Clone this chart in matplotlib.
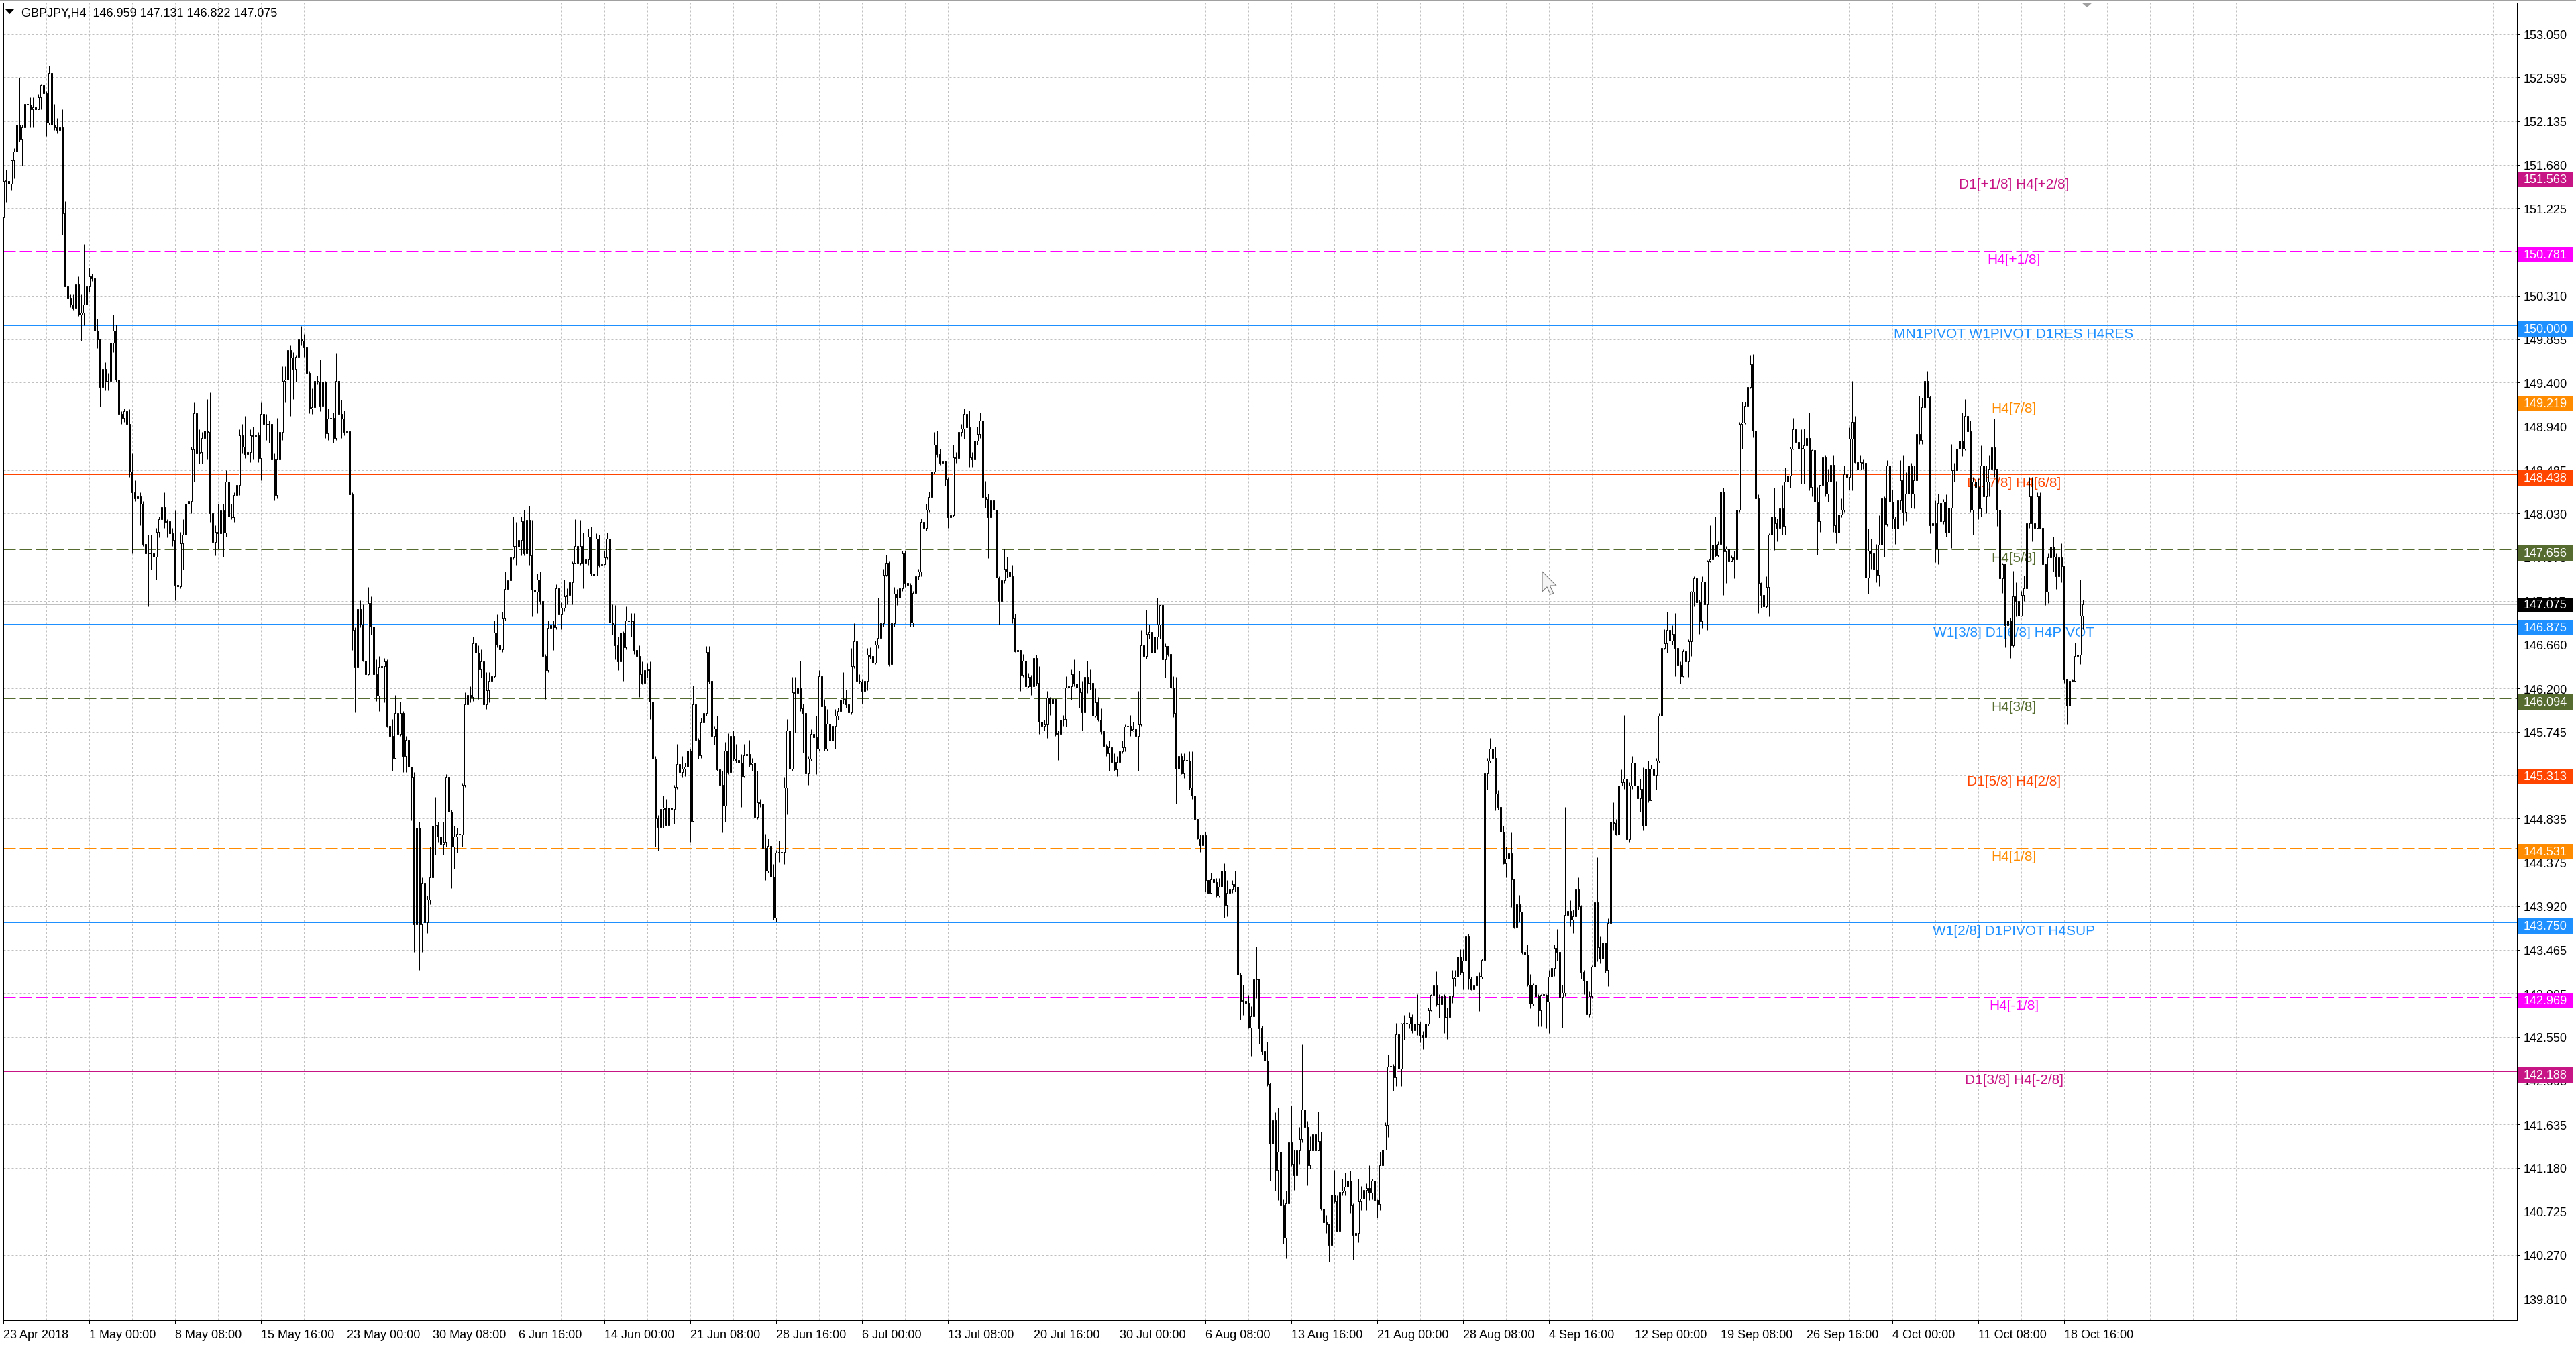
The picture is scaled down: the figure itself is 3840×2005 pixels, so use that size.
import matplotlib
matplotlib.use("Agg")
import matplotlib.pyplot as plt
import matplotlib.transforms as mtransforms
from matplotlib.patches import Rectangle, Polygon
import numpy as np

plt.rcParams['font.family'] = ['Liberation Sans', 'DejaVu Sans']
plt.rcParams['lines.scale_dashes'] = False

# ------------------------------------------------------------------ data
symbol = "GBPJPY,H4"
first_open = 151.13

close_1 = [
    151.51, 151.51, 151.48, 151.73, 151.82, 152.10, 151.95, 152.07, 152.32, 152.31,
    152.26, 152.28, 152.26, 152.39, 152.51, 152.43, 152.12, 152.64, 152.10, 152.07,
    152.04, 152.07, 151.17, 150.41, 150.29, 150.22, 150.18, 150.43, 150.11, 150.13,
    150.22, 150.41, 150.51, 150.49, 149.94, 149.85, 149.35, 149.54, 149.41, 149.42,
    149.82, 149.94, 149.43, 149.07, 149.03, 149.10, 148.97, 148.47, 148.25, 148.19,
    148.21, 148.13, 147.71, 147.61, 147.62, 147.61, 147.58, 147.84, 147.97, 148.10,
    147.94, 147.95, 147.82, 147.75, 147.28, 147.27, 147.72, 147.81, 148.13, 148.16,
    148.70, 149.08, 148.66, 148.67, 148.82, 148.90, 148.88, 148.03, 147.73, 147.84,
    147.82, 148.06, 147.83, 148.36, 148.00, 147.99, 148.22, 148.33, 148.85, 148.73,
    148.65, 148.67, 148.85, 148.84, 148.85, 148.61, 149.07, 148.97, 148.96, 148.97,
    148.60, 148.22, 148.60, 148.88, 149.42, 149.43, 149.74, 149.66, 149.54, 149.67,
    149.85, 149.84, 149.77, 149.50, 149.13, 149.14, 149.42, 149.41, 149.16, 149.41,
    148.87, 149.02, 149.03, 148.82, 149.42, 149.07, 149.02, 148.88, 148.89, 148.23,
    146.81, 146.42, 147.03, 146.87]
high_1 = [
    151.60, 151.63, 151.57, 151.73, 151.85, 152.20, 152.59, 152.10, 152.42, 152.45,
    152.39, 152.39, 152.56, 152.42, 152.53, 152.54, 152.45, 152.72, 152.70, 152.32,
    152.17, 152.17, 152.26, 151.30, 150.60, 150.32, 150.32, 150.44, 150.51, 150.32,
    150.85, 150.51, 150.60, 150.54, 150.63, 150.07, 149.85, 149.63, 149.61, 149.50,
    149.82, 150.11, 150.01, 149.65, 149.10, 149.13, 149.46, 149.12, 148.66, 148.38,
    148.30, 148.25, 148.16, 147.78, 147.81, 147.81, 147.83, 147.88, 148.00, 148.13,
    148.25, 147.97, 147.97, 147.88, 148.06, 147.37, 147.84, 147.97, 148.14, 148.42,
    148.73, 149.19, 149.19, 148.91, 148.88, 148.92, 149.23, 149.30, 148.06, 147.91,
    148.13, 148.10, 148.13, 148.48, 148.42, 148.13, 148.25, 148.41, 148.91, 148.97,
    149.05, 148.78, 148.91, 148.94, 149.00, 148.88, 149.19, 149.10, 149.07, 149.00,
    149.02, 148.66, 149.03, 148.94, 149.57, 149.57, 149.80, 149.79, 149.72, 149.69,
    149.91, 149.99, 149.91, 149.79, 149.52, 149.34, 149.47, 149.47, 149.64, 149.49,
    149.42, 149.13, 149.10, 149.09, 149.71, 149.55, 149.22, 149.11, 148.92, 148.90,
    148.25, 146.84, 147.19, 147.12]
low_1 = [
    150.98, 151.29, 151.45, 151.42, 151.54, 151.82, 151.92, 151.67, 152.04, 152.10,
    152.07, 152.07, 152.10, 152.26, 152.26, 152.39, 151.98, 152.10, 152.07, 152.04,
    152.01, 151.95, 150.95, 150.41, 150.26, 150.19, 150.16, 150.21, 150.10, 149.84,
    150.00, 150.19, 150.35, 150.46, 149.88, 149.76, 149.15, 149.19, 149.32, 149.32,
    149.19, 149.72, 149.41, 149.00, 148.97, 148.99, 148.97, 148.41, 147.61, 148.16,
    148.06, 147.91, 147.69, 147.27, 147.06, 147.44, 147.50, 147.34, 147.78, 147.88,
    147.88, 147.78, 147.78, 147.69, 147.12, 147.06, 147.25, 147.44, 147.73, 148.03,
    148.03, 148.36, 148.63, 148.55, 148.55, 148.53, 148.60, 147.94, 147.48, 147.59,
    147.66, 147.78, 147.58, 147.79, 147.92, 147.97, 147.94, 148.21, 148.22, 148.66,
    148.61, 148.53, 148.57, 148.60, 148.57, 148.57, 148.38, 148.94, 148.80, 148.77,
    148.60, 148.17, 148.19, 148.58, 148.80, 149.19, 149.13, 149.05, 149.23, 149.41,
    149.61, 149.79, 149.67, 149.47, 149.08, 149.07, 149.19, 149.38, 149.10, 149.16,
    148.82, 148.80, 148.97, 148.77, 148.80, 149.03, 148.82, 148.85, 148.82, 147.97,
    146.60, 145.95, 146.39, 146.84]

close_2 = [
    146.49, 146.35, 147.09, 146.85, 146.35, 146.12, 146.42, 146.43, 146.48, 145.81,
    145.70, 145.47, 145.94, 145.72, 145.94, 145.49, 145.66, 145.38, 145.27, 143.73,
    144.74, 143.73, 144.16, 143.75, 143.99, 144.22, 144.76, 144.77, 144.65, 144.57,
    144.59, 145.27, 144.91, 144.54, 144.65, 144.68, 144.67, 145.19, 146.03, 146.13,
    146.11, 146.67, 146.57, 146.40, 146.48, 146.03, 146.18, 146.28, 146.33, 146.78,
    146.66, 146.61, 146.93, 147.24, 147.33, 147.57, 147.69, 147.68, 147.75, 147.95,
    147.61, 147.96, 147.59, 147.23, 147.21, 147.34, 147.11, 146.54, 146.39, 146.83,
    146.86, 146.84, 147.25, 146.97, 147.04, 147.16, 147.18, 147.31, 147.51, 147.69,
    147.51, 147.69, 147.51, 147.55, 147.79, 147.40, 147.38, 147.77, 147.49, 147.50,
    147.57, 147.77, 146.89, 146.87, 146.65, 146.48, 146.78, 146.63, 146.91, 146.90,
    146.91, 146.60, 146.54, 146.35, 146.26, 146.39, 146.40, 146.06, 145.46, 144.84,
    144.75, 144.94, 144.95, 144.77, 144.95, 144.94, 145.17, 145.41, 145.32, 145.36]
high_2 = [
    147.08, 146.50, 147.26, 147.16, 146.86, 146.50, 146.54, 146.69, 146.52, 146.50,
    146.13, 145.88, 146.13, 145.96, 146.06, 145.96, 145.70, 145.68, 145.38, 145.32,
    144.82, 144.80, 144.22, 144.18, 144.03, 144.54, 144.97, 145.06, 144.80, 144.67,
    144.80, 145.30, 145.30, 144.93, 144.76, 144.74, 144.76, 145.21, 146.16, 146.28,
    146.22, 146.74, 146.71, 146.65, 146.61, 146.52, 146.37, 146.37, 146.48, 146.91,
    146.97, 146.74, 147.00, 147.42, 147.38, 147.87, 148.00, 147.94, 147.85, 148.00,
    148.07, 148.11, 148.11, 147.96, 147.42, 147.40, 147.42, 147.25, 146.56, 146.91,
    146.93, 146.91, 147.29, 147.83, 147.10, 147.34, 147.25, 147.68, 147.53, 147.97,
    147.81, 147.96, 147.83, 147.83, 147.87, 147.89, 147.49, 147.82, 147.81, 147.59,
    147.64, 147.83, 147.83, 147.08, 147.07, 146.74, 146.86, 146.80, 147.06, 146.99,
    146.99, 146.99, 146.86, 146.65, 146.48, 146.48, 146.46, 146.48, 146.09, 145.49,
    144.87, 145.06, 145.08, 145.04, 145.15, 145.00, 145.19, 145.62, 145.40, 145.49]
low_2 = [
    146.48, 146.09, 146.34, 146.76, 145.69, 146.07, 145.96, 146.31, 146.05, 145.79,
    145.27, 145.34, 145.47, 145.57, 145.70, 145.32, 145.32, 145.32, 144.82, 143.44,
    143.56, 143.25, 143.44, 143.60, 143.64, 143.94, 144.20, 144.46, 144.59, 144.11,
    144.46, 144.54, 144.84, 144.11, 144.31, 144.48, 144.52, 144.54, 145.17, 145.72,
    146.05, 146.07, 146.54, 146.09, 146.31, 145.83, 145.98, 146.05, 146.22, 146.31,
    146.63, 146.37, 146.58, 146.91, 147.21, 147.29, 147.55, 147.49, 147.64, 147.59,
    147.59, 147.59, 147.49, 146.95, 146.91, 146.99, 147.08, 146.52, 146.09, 146.37,
    146.74, 146.60, 146.82, 146.95, 146.82, 147.01, 147.08, 147.14, 147.08, 147.51,
    147.42, 147.49, 147.25, 147.49, 147.49, 147.38, 147.21, 147.38, 147.47, 147.32,
    147.49, 147.55, 146.88, 146.76, 146.50, 146.39, 146.46, 146.28, 146.61, 146.61,
    146.74, 146.56, 146.52, 146.11, 146.24, 146.09, 146.31, 145.88, 145.40, 144.54,
    144.50, 144.39, 144.74, 144.76, 144.59, 144.91, 144.78, 145.15, 145.27, 145.27]

close_3 = [
    145.38, 145.55, 144.81, 146.03, 145.66, 145.50, 145.84, 145.94, 146.58, 146.28,
    145.70, 145.78, 145.35, 145.19, 144.97, 145.55, 145.32, 145.70, 145.46, 145.45,
    145.42, 145.28, 145.50, 145.51, 145.41, 145.42, 144.85, 145.01, 144.99, 144.53,
    144.29, 144.55, 144.23, 143.80, 144.48, 144.48, 144.49, 145.16, 145.76, 145.36,
    146.16, 146.15, 146.21, 145.99, 145.94, 145.31, 145.46, 145.72, 145.69, 145.57,
    146.33, 146.01, 145.57, 145.83, 145.65, 145.81, 145.91, 145.96, 146.08, 146.09,
    146.03, 145.95, 146.43, 146.69, 146.28, 146.27, 146.17, 146.28, 146.55, 146.54,
    146.47, 146.66, 146.73, 146.88, 147.39, 147.51, 146.45, 146.88, 147.19, 147.15,
    147.25, 147.61, 147.30, 147.28, 146.89, 147.20, 147.37, 147.42, 147.94, 147.88,
    148.07, 148.20, 148.47, 148.75, 148.65, 148.56, 148.58, 148.39, 147.99, 148.01,
    148.62, 148.61, 148.88, 148.92, 149.07, 148.93, 148.62, 148.60, 148.79, 148.86,
    149.00, 148.20, 148.18, 147.99, 148.17, 148.07, 147.36, 147.11, 147.33, 147.45,
    147.42, 147.37, 146.93, 146.59, 146.60, 146.34, 146.49, 146.22, 146.32, 146.22,
    146.52, 146.26, 145.85, 145.81, 145.82, 146.10, 146.04, 146.09, 145.72, 145.72]
high_3 = [
    145.42, 145.68, 145.57, 146.23, 146.08, 145.68, 145.89, 145.94, 146.64, 146.64,
    146.43, 145.81, 145.91, 145.42, 145.34, 145.64, 145.73, 146.19, 145.76, 145.62,
    145.59, 145.51, 145.62, 145.76, 145.66, 145.47, 145.46, 145.34, 145.04, 145.02,
    144.68, 144.63, 144.65, 144.36, 144.51, 144.61, 144.63, 145.27, 145.88, 145.91,
    146.32, 146.32, 146.34, 146.49, 146.04, 146.02, 145.49, 145.77, 145.79, 145.91,
    146.39, 146.37, 146.09, 145.98, 145.89, 145.87, 145.98, 146.00, 146.16, 146.37,
    146.19, 146.18, 146.62, 146.88, 146.70, 146.35, 146.30, 146.47, 146.62, 146.63,
    146.64, 146.70, 147.15, 146.94, 147.45, 147.60, 147.53, 146.92, 147.26, 147.24,
    147.32, 147.64, 147.64, 147.37, 147.30, 147.22, 147.41, 147.45, 147.98, 147.99,
    148.13, 148.26, 148.52, 148.88, 148.90, 148.71, 148.62, 148.56, 148.41, 148.03,
    148.75, 148.67, 148.92, 148.97, 149.13, 149.31, 149.11, 148.67, 148.82, 148.94,
    149.09, 149.03, 148.37, 148.24, 148.20, 148.17, 148.07, 147.37, 147.36, 147.66,
    147.58, 147.51, 147.49, 146.98, 146.62, 146.60, 146.56, 146.51, 146.36, 146.34,
    146.64, 146.55, 146.43, 145.89, 145.87, 146.17, 146.11, 146.09, 146.09, 145.76]
low_3 = [
    145.28, 145.28, 144.59, 144.80, 145.45, 145.46, 145.47, 145.77, 145.91, 146.25,
    145.59, 145.61, 145.34, 145.08, 144.69, 144.80, 145.30, 145.30, 145.44, 145.42,
    145.36, 144.96, 145.27, 145.45, 145.38, 145.34, 144.81, 144.83, 144.96, 144.51,
    144.19, 144.27, 144.21, 143.78, 143.76, 144.38, 144.36, 144.36, 144.88, 145.35,
    145.34, 145.74, 146.13, 145.96, 145.53, 145.28, 145.19, 145.44, 145.36, 145.30,
    145.55, 145.98, 145.55, 145.55, 145.61, 145.62, 145.57, 145.87, 145.94, 146.04,
    146.00, 145.84, 145.93, 146.41, 146.04, 146.25, 146.04, 146.15, 146.18, 146.51,
    146.40, 146.45, 146.62, 146.73, 146.85, 147.37, 146.43, 146.40, 146.85, 147.07,
    147.11, 147.22, 147.26, 147.22, 146.85, 146.85, 147.17, 147.34, 147.37, 147.83,
    147.85, 148.05, 148.18, 148.45, 148.62, 148.54, 148.39, 148.32, 147.88, 147.64,
    148.00, 148.56, 148.37, 148.84, 148.81, 148.81, 148.52, 148.52, 148.60, 148.75,
    148.82, 148.18, 148.09, 147.56, 147.98, 148.05, 147.36, 146.87, 147.07, 147.30,
    147.36, 147.34, 146.88, 146.58, 146.58, 146.17, 146.32, 145.98, 146.21, 146.13,
    146.21, 146.23, 145.72, 145.70, 145.76, 145.68, 145.92, 145.98, 145.70, 145.45]

close_4 = [
    145.87, 145.88, 146.21, 146.22, 146.35, 146.25, 146.21, 146.16, 145.95, 146.32,
    146.25, 146.26, 145.91, 146.05, 145.87, 145.75, 145.60, 145.52, 145.58, 145.43,
    145.35, 145.43, 145.54, 145.58, 145.80, 145.81, 145.76, 145.77, 145.70, 145.82,
    146.65, 146.54, 146.77, 146.79, 146.57, 146.74, 146.87, 147.07, 146.50, 146.64,
    146.56, 146.21, 145.94, 145.36, 145.49, 145.31, 145.45, 145.44, 145.16, 145.08,
    144.83, 144.63, 144.56, 144.66, 144.19, 144.06, 144.20, 144.17, 144.03, 144.12,
    144.29, 143.93, 144.06, 144.10, 144.15, 144.12, 143.20, 142.93, 142.93, 142.91,
    142.65, 142.77, 143.15, 143.16, 142.64, 142.40, 142.30, 142.06, 141.43, 141.68,
    141.16, 141.35, 140.79, 140.45, 140.81, 141.45, 141.22, 141.10, 141.36, 141.48,
    141.79, 141.61, 141.21, 141.36, 141.53, 141.36, 141.46, 140.75, 140.61, 140.59,
    140.37, 140.90, 140.83, 140.52, 140.93, 140.94, 140.98, 141.05, 140.79, 140.48,
    140.50, 140.83, 140.86, 140.95, 140.97, 140.92, 141.05, 140.84, 140.80, 141.21,
    141.37, 141.63, 142.24, 142.25, 142.13, 142.58, 142.22, 142.69, 142.69, 142.69]
high_4 = [
    145.95, 145.92, 146.33, 146.36, 146.40, 146.50, 146.49, 146.38, 146.28, 146.51,
    146.49, 146.40, 146.28, 146.20, 146.11, 145.99, 145.82, 145.62, 145.65, 145.67,
    145.52, 145.49, 145.64, 145.65, 145.82, 145.83, 145.92, 145.85, 145.86, 146.17,
    146.81, 146.77, 147.02, 146.87, 146.84, 146.82, 147.15, 147.07, 147.10, 146.67,
    146.59, 146.59, 146.33, 146.32, 145.57, 145.52, 145.52, 145.46, 145.54, 145.54,
    145.08, 144.83, 144.67, 144.71, 144.70, 144.19, 144.27, 144.21, 144.21, 144.21,
    144.44, 144.37, 144.19, 144.16, 144.19, 144.29, 144.21, 143.22, 143.10, 143.09,
    142.99, 142.87, 143.20, 143.50, 143.13, 142.67, 142.52, 142.50, 142.07, 141.79,
    141.76, 141.81, 141.35, 140.85, 140.94, 141.58, 141.83, 141.37, 141.48, 141.61,
    142.47, 142.01, 141.67, 141.51, 141.56, 141.63, 141.77, 141.56, 140.76, 140.69,
    140.53, 141.08, 141.16, 140.89, 141.32, 141.07, 141.13, 141.12, 141.15, 140.81,
    140.62, 141.07, 140.99, 141.02, 141.02, 141.21, 141.07, 141.07, 140.85, 141.35,
    141.40, 141.66, 142.37, 142.68, 142.27, 142.70, 142.60, 142.70, 142.78, 142.78]
low_4 = [
    145.57, 145.81, 145.80, 146.05, 146.08, 146.22, 146.18, 146.00, 145.76, 145.77,
    146.15, 146.19, 145.87, 145.90, 145.86, 145.72, 145.55, 145.49, 145.34, 145.34,
    145.34, 145.28, 145.28, 145.52, 145.54, 145.75, 145.70, 145.75, 145.64, 145.34,
    145.81, 146.50, 146.51, 146.72, 146.51, 146.56, 146.61, 146.72, 146.42, 146.31,
    146.54, 146.18, 145.90, 144.99, 145.18, 145.30, 145.26, 145.26, 145.14, 145.04,
    144.52, 144.62, 144.49, 144.52, 144.07, 144.05, 144.05, 144.15, 144.02, 144.02,
    144.07, 143.80, 143.81, 143.98, 144.06, 144.07, 143.19, 142.73, 142.78, 142.89,
    142.64, 142.35, 142.65, 142.96, 142.48, 142.37, 142.27, 142.04, 141.05, 141.43,
    140.94, 140.84, 140.76, 140.39, 140.23, 140.63, 141.20, 140.95, 140.89, 141.22,
    141.45, 141.60, 141.00, 141.17, 141.17, 141.14, 141.36, 140.74, 139.89, 140.50,
    140.20, 140.20, 140.81, 140.51, 140.51, 140.89, 140.89, 140.94, 140.71, 140.22,
    140.40, 140.40, 140.74, 140.71, 140.74, 140.84, 140.85, 140.74, 140.66, 140.74,
    141.14, 141.50, 141.50, 142.17, 141.99, 142.04, 142.04, 142.04, 142.52, 142.60]

close_5 = [
    142.76, 142.62, 142.69, 142.68, 142.57, 142.55, 142.69, 142.83, 142.99, 143.09,
    142.89, 142.89, 142.98, 142.75, 142.76, 142.98, 143.17, 143.18, 143.39, 143.23,
    143.35, 143.60, 143.16, 143.05, 143.09, 143.19, 143.18, 143.36, 145.31, 145.44,
    145.57, 145.47, 145.10, 144.96, 144.70, 144.37, 144.42, 144.47, 144.20, 143.70,
    143.94, 143.86, 143.44, 143.41, 143.10, 142.90, 143.10, 142.98, 142.83, 142.99,
    142.99, 142.92, 143.18, 143.27, 143.48, 143.44, 142.97, 143.01, 143.83, 143.87,
    143.78, 143.81, 144.10, 143.92, 143.23, 143.14, 142.79, 142.98, 143.29, 143.96,
    143.49, 143.37, 143.54, 143.25, 143.74, 144.80, 144.79, 144.67, 145.18, 145.22,
    145.25, 144.62, 145.18, 145.42, 145.18, 145.05, 145.15, 144.76, 145.36, 145.03,
    145.36, 145.29, 145.44, 145.91, 146.62, 146.67, 146.81, 146.70, 146.77, 146.62,
    146.44, 146.33, 146.59, 146.48, 146.69, 147.21, 147.35, 147.10, 146.90, 147.32,
    147.08, 147.53, 147.55, 147.70, 147.59, 147.71, 148.26, 147.63, 147.66, 147.53,
    147.57, 147.55, 148.07, 148.97, 148.98, 149.16, 149.35, 149.59, 148.90, 148.19]
high_5 = [
    142.81, 142.79, 142.86, 143.00, 142.71, 142.61, 142.71, 142.86, 143.00, 143.24,
    143.24, 143.00, 143.18, 143.00, 142.86, 143.03, 143.25, 143.25, 143.41, 143.47,
    143.47, 143.66, 143.63, 143.18, 143.18, 143.21, 143.23, 143.37, 145.50, 145.47,
    145.68, 145.59, 145.59, 145.13, 144.96, 144.76, 144.54, 144.62, 144.69, 144.20,
    144.05, 144.04, 143.86, 143.52, 143.52, 143.21, 143.11, 143.10, 143.00, 143.00,
    143.10, 143.00, 143.25, 143.29, 143.52, 143.68, 143.44, 143.10, 144.96, 144.03,
    143.98, 143.88, 144.13, 144.22, 143.93, 143.25, 143.15, 143.03, 143.30, 144.37,
    144.43, 143.60, 143.59, 143.49, 143.79, 144.83, 145.01, 144.83, 145.32, 145.35,
    145.92, 145.32, 145.22, 145.49, 145.42, 145.27, 145.25, 145.37, 145.65, 145.44,
    145.40, 145.39, 145.47, 145.94, 146.66, 146.82, 147.00, 146.98, 146.86, 146.99,
    146.64, 146.48, 146.61, 146.61, 146.71, 147.22, 147.37, 147.44, 147.13, 147.37,
    147.81, 147.54, 147.91, 147.74, 148.00, 147.74, 148.52, 148.30, 147.69, 147.69,
    147.59, 147.64, 148.27, 148.99, 149.20, 149.20, 149.36, 149.69, 149.70, 148.90]
low_5 = [
    142.64, 142.59, 142.44, 142.57, 142.49, 142.42, 142.52, 142.67, 142.82, 142.81,
    142.87, 142.75, 142.86, 142.59, 142.53, 142.74, 142.91, 143.08, 143.05, 143.20,
    143.05, 143.20, 143.05, 143.04, 142.93, 143.05, 142.82, 143.16, 143.32, 145.14,
    145.42, 145.27, 144.92, 144.93, 144.54, 144.36, 144.22, 144.30, 143.91, 143.69,
    143.49, 143.76, 143.42, 143.39, 143.08, 142.85, 142.88, 142.71, 142.66, 142.66,
    142.90, 142.64, 142.59, 143.16, 143.19, 143.35, 142.71, 142.65, 142.98, 143.81,
    143.71, 143.64, 143.73, 143.88, 143.16, 143.00, 142.61, 142.76, 142.96, 143.25,
    143.34, 143.32, 143.44, 143.22, 143.08, 143.54, 144.71, 144.66, 144.66, 145.18,
    145.15, 144.35, 144.59, 145.15, 145.03, 144.97, 144.91, 144.71, 144.67, 145.01,
    145.05, 145.19, 145.14, 145.42, 145.76, 146.61, 146.57, 146.66, 146.66, 146.33,
    146.31, 146.25, 146.32, 146.44, 146.32, 146.54, 147.06, 147.04, 146.77, 146.83,
    147.04, 146.81, 147.52, 147.52, 147.58, 147.58, 147.70, 147.18, 147.30, 147.32,
    147.53, 147.35, 147.35, 148.05, 148.71, 148.97, 149.06, 149.34, 148.83, 148.03]

close_6 = [
    147.30, 147.18, 147.06, 147.26, 147.81, 148.00, 147.93, 147.88, 148.08, 147.90,
    148.36, 148.43, 148.71, 148.91, 148.78, 148.71, 148.71, 148.74, 148.82, 148.31,
    148.69, 148.15, 147.95, 148.33, 148.62, 148.24, 148.36, 148.54, 147.91, 147.83,
    148.02, 148.07, 148.44, 148.41, 148.81, 148.99, 148.57, 148.49, 148.57, 148.56,
    147.36, 147.64, 147.61, 147.44, 147.39, 147.70, 148.19, 147.92, 148.53, 148.15,
    147.98, 147.87, 148.17, 148.38, 148.05, 148.24, 148.53, 148.24, 148.38, 148.86,
    148.80, 149.14, 149.42, 149.25, 147.91, 147.93, 147.66, 148.14, 147.95, 148.15,
    147.83, 148.09, 148.48, 148.48, 148.71, 148.79, 148.71, 149.05, 148.89, 148.07,
    148.36, 148.31, 148.08, 148.53, 148.21, 148.36, 148.50, 148.72, 148.50, 148.07,
    147.35, 147.50, 146.86, 146.91, 146.65, 147.16, 147.11, 146.96, 147.18, 147.25,
    147.93, 148.21, 147.93, 147.88, 148.21, 147.88, 147.50, 147.21, 147.57, 147.68,
    147.58, 147.37, 147.57, 147.48, 146.30, 146.02, 146.28, 146.28, 146.54, 146.55,
    146.959, 147.075]
high_6 = [
    148.23, 147.31, 147.21, 147.37, 147.82, 148.21, 148.30, 147.98, 148.19, 148.33,
    148.51, 148.50, 148.73, 149.03, 148.94, 148.79, 148.91, 148.92, 149.10, 149.09,
    148.70, 148.73, 148.31, 148.33, 148.70, 148.64, 148.50, 148.59, 148.64, 148.37,
    148.03, 148.19, 148.53, 148.57, 148.93, 149.42, 149.05, 148.73, 148.64, 148.60,
    148.54, 147.87, 147.77, 147.64, 147.71, 148.01, 148.21, 148.21, 148.59, 148.59,
    148.28, 148.00, 148.38, 148.59, 148.64, 148.46, 148.56, 148.56, 148.53, 148.97,
    149.26, 149.24, 149.48, 149.52, 149.26, 147.94, 148.17, 148.24, 148.23, 148.18,
    148.23, 148.10, 148.76, 148.56, 148.76, 148.87, 149.09, 149.23, 149.30, 149.00,
    148.41, 148.39, 148.40, 148.74, 148.79, 148.53, 148.64, 148.74, 149.02, 148.50,
    148.08, 147.51, 147.11, 147.01, 146.94, 147.43, 147.31, 147.21, 147.22, 147.38,
    148.19, 148.41, 148.41, 148.33, 148.25, 148.25, 148.10, 147.50, 147.61, 147.78,
    147.79, 147.61, 147.65, 147.72, 147.48, 146.30, 146.30, 146.30, 146.68, 146.69,
    147.34, 147.131]
low_6 = [
    146.99, 147.04, 146.96, 147.04, 146.95, 147.67, 147.65, 147.74, 147.81, 147.81,
    147.81, 148.31, 148.30, 148.70, 148.70, 148.70, 148.34, 148.34, 148.30, 148.27,
    148.21, 148.14, 147.60, 147.84, 148.23, 148.21, 148.15, 148.23, 147.84, 147.72,
    147.54, 147.99, 148.05, 148.33, 148.28, 148.27, 148.56, 148.44, 148.51, 148.50,
    147.25, 147.19, 147.45, 147.41, 147.31, 147.27, 147.68, 147.58, 147.90, 148.00,
    147.87, 147.71, 147.85, 148.07, 147.91, 147.95, 148.18, 148.09, 148.08, 148.36,
    148.76, 148.76, 149.13, 149.25, 147.82, 147.90, 147.52, 147.50, 147.84, 147.92,
    147.79, 147.35, 147.67, 148.36, 148.38, 148.63, 148.63, 148.69, 148.56, 148.05,
    147.81, 148.27, 147.97, 148.00, 147.82, 148.03, 148.21, 148.41, 148.41, 147.90,
    147.17, 147.20, 146.63, 146.69, 146.52, 146.63, 146.95, 146.95, 146.95, 147.11,
    147.21, 147.88, 147.74, 147.71, 147.93, 147.87, 147.41, 147.07, 147.09, 147.41,
    147.42, 147.24, 147.08, 147.31, 146.26, 145.82, 145.99, 146.27, 146.28, 146.45,
    146.45, 146.822]

close = close_1 + close_2 + close_3 + close_4 + close_5 + close_6
high = high_1 + high_2 + high_3 + high_4 + high_5 + high_6
low = low_1 + low_2 + low_3 + low_4 + low_5 + low_6

# Murrey-math style levels
levels = [151.563, 150.781, 150.000, 149.219, 148.438, 147.656, 146.875,
          146.094, 145.313, 144.531, 143.750, 142.969, 142.188]
level_names = ["D1[+1/8] H4[+2/8]", "H4[+1/8]", "MN1PIVOT W1PIVOT D1RES H4RES",
               "H4[7/8]", "D1[7/8] H4[6/8]", "H4[5/8]", "W1[3/8] D1[6/8] H4PIVOT",
               "H4[3/8]", "D1[5/8] H4[2/8]", "H4[1/8]", "W1[2/8] D1PIVOT H4SUP",
               "H4[-1/8]", "D1[3/8] H4[-2/8]"]
level_colors = ["#C71585", "#FF00FF", "#1E90FF", "#FF8C00", "#FF4500", "#556B2F",
                "#1E90FF", "#556B2F", "#FF4500", "#FF8C00", "#1E90FF", "#FF00FF",
                "#C71585"]
level_dashed = [False, True, False, True, False, True, False,
                True, False, True, False, True, False]
level_width_px = [1, 1, 2, 1, 1, 1, 1, 1, 1, 1, 1, 1, 1]

ytick_values = [153.050, 152.595, 152.135, 151.680, 151.225, 150.770, 150.310,
                149.855, 149.400, 148.940, 148.485, 148.030, 147.575, 147.115,
                146.660, 146.200, 145.745, 145.290, 144.835, 144.375, 143.920,
                143.465, 143.005, 142.550, 142.095, 141.635, 141.180, 140.725,
                140.270, 139.810]
xtick_labels = ["23 Apr 2018", "1 May 00:00", "8 May 08:00", "15 May 16:00",
                "23 May 00:00", "30 May 08:00", "6 Jun 16:00", "14 Jun 00:00",
                "21 Jun 08:00", "28 Jun 16:00", "6 Jul 00:00", "13 Jul 08:00",
                "20 Jul 16:00", "30 Jul 00:00", "6 Aug 08:00", "13 Aug 16:00",
                "21 Aug 00:00", "28 Aug 08:00", "4 Sep 16:00", "12 Sep 00:00",
                "19 Sep 08:00", "26 Sep 16:00", "4 Oct 00:00", "11 Oct 08:00",
                "18 Oct 16:00"]
xtick_bars = [32 * k for k in range(len(xtick_labels))]

# ------------------------------------------------------------------ layout
W, H, DPI = 3840, 2006, 100
PX = 72.0 / DPI                      # points per pixel
L, R, T, B = 5, 3752, 5, 1969        # plot frame in pixels
YMIN, YMAX = 139.586, 153.377
BAR_PX = 4.0

fig = plt.figure(figsize=(W / DPI, H / DPI), dpi=DPI, facecolor='white')
ax = fig.add_axes([L / W, 1 - B / H, (R - L) / W, (B - T) / H])
ax.set_facecolor('white')
ax.set_autoscale_on(False)
ax.set_xlim(0, (R - L) / BAR_PX)
ax.set_ylim(YMIN, YMAX)
ppy = (B - T) / (YMAX - YMIN)

grid_ls = (0, (3 * PX, 3 * PX))
for v in ytick_values:
    ax.axhline(v, color='#C0C0C0', lw=PX, ls=grid_ls, zorder=0.5)
for xb in range(0, int((R - L) / BAR_PX) + 1, 16):
    ax.axvline(xb, color='#C0C0C0', lw=PX, ls=grid_ls, zorder=0.5)

# level lines and their captions
dash_ls = (0, (18 * PX, 6 * PX))
cap_tr = mtransforms.offset_copy(ax.transData, fig=fig, x=0, y=-3, units='dots')
cap_x = (3002 - L) / BAR_PX
for lv, name, col, dsh, lw in zip(levels, level_names, level_colors,
                                  level_dashed, level_width_px):
    ax.axhline(lv, color=col, lw=lw * PX, ls=dash_ls if dsh else '-', zorder=1.5)
    ax.text(cap_x, lv, name, transform=cap_tr, color=col, fontsize=15,
            ha='center', va='top', zorder=2)

# candles
n = min(len(close), len(high), len(low))
c = np.array(close[:n], dtype=float)
o = np.concatenate([[first_open], c[:-1]])
hi = np.maximum(np.array(high[:n], dtype=float), np.maximum(o, c))
lo = np.minimum(np.array(low[:n], dtype=float), np.minimum(o, c))
xs = np.arange(n)
ax.axhline(c[-1], color='#C0C0C0', lw=PX, zorder=1.4)   # bid line
ax.vlines(xs, lo, hi, colors='black', linewidth=PX, zorder=4)
bull = c >= o
ax.bar(xs, np.maximum(np.abs(c - o), 1.0 / ppy), bottom=np.minimum(o, c),
       width=0.55, color=np.where(bull, 'white', 'black'), edgecolor='black',
       linewidth=PX, zorder=5)

# axes / ticks
ax.yaxis.tick_right()
ax.set_yticks(ytick_values)
ax.set_yticklabels([f"{v:.3f}" for v in ytick_values])
ax.tick_params(axis='y', direction='out', length=4 * PX, width=PX, pad=6 * PX,
               labelsize=13, colors='black', left=False, right=True)
ax.set_xticks(xtick_bars)
ax.set_xticklabels(xtick_labels)
for t in ax.get_xticklabels():
    t.set_horizontalalignment('left')
ax.tick_params(axis='x', direction='out', length=5 * PX, width=PX, pad=8 * PX,
               labelsize=13, colors='black')
for s in ax.spines.values():
    s.set_linewidth(PX)
    s.set_color('black')

# price boxes on the right scale
btr = mtransforms.blended_transform_factory(fig.transFigure, ax.transData)


def price_box(p, col, up, down):
    r = Rectangle((3754 / W, p - down / ppy), (3835 - 3754) / W, (up + down) / ppy,
                  transform=btr, facecolor=col, edgecolor='none', clip_on=False,
                  zorder=10)
    ax.add_artist(r)
    ax.text(3762 / W, p + (up - down) / 2.0 / ppy, f"{p:.3f}", transform=btr,
            color='white', fontsize=13, ha='left', va='center', clip_on=False,
            zorder=11)


for lv, col in zip(levels, level_colors):
    price_box(lv, col, 6, 17)
price_box(c[-1], 'black', 10, 11)

# header text
fig.text(32 / W, 1 - 20 / H,
         f"{symbol}  {o[-1]:.3f} {hi[-1]:.3f} {lo[-1]:.3f} {c[-1]:.3f}",
         fontsize=13, ha='left', va='center', color='black')


def px_poly(pts, **kw):
    return Polygon([[x / W, 1 - y / H] for x, y in pts], closed=True,
                   transform=fig.transFigure, **kw)


fig.add_artist(px_poly([(8, 15), (21, 15), (14.5, 22)], facecolor='black',
                       edgecolor='none'))
# chart shift marker
fig.add_artist(px_poly([(3103, 5), (3119, 5), (3111, 12)], facecolor='#A0A0A0',
                       edgecolor='none'))
# mouse cursor
tipx, tipy, sc = 2299, 853, 1.75
cur = [(0, 0), (0, 17), (4, 13), (7, 19.5), (9.5, 18.5), (6.5, 12), (12, 12)]
fig.add_artist(px_poly([(tipx + sc * a, tipy + sc * b) for a, b in cur],
                       facecolor='#F4F4F4', edgecolor='#707070', lw=PX))
# window edge
fig.add_artist(Rectangle((0, 1 - 2 / H), 1, 2 / H, transform=fig.transFigure,
                         facecolor='#A0A0A0', edgecolor='none'))

fig.savefig('out.png', dpi=DPI, facecolor='white')
